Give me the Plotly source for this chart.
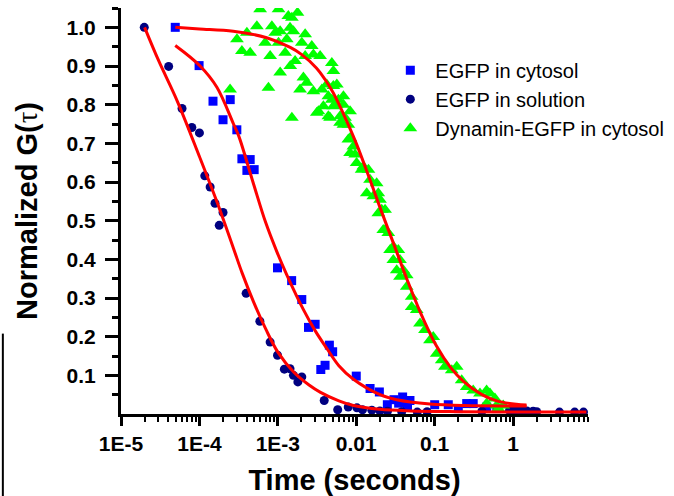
import plotly.graph_objects as go

# EGFP in solution (navy circles)
sol_t = [1.98e-5, 4.05e-5, 6.0e-5, 8.0e-5, 1.0e-4, 1.17e-4, 1.37e-4, 1.58e-4, 2.0e-4, 1.79e-4,
         3.94e-4, 5.9e-4, 7.97e-4, 9.9e-4, 1.21e-3, 1.43e-3, 1.58e-3, 1.8e-3, 2.02e-3, 3.9e-3,
         5.8e-3, 7.9e-3, 0.0102, 0.012, 0.0158, 0.02, 0.025, 0.038, 0.06, 0.08, 0.4,
         0.9, 1.0, 1.1, 1.3, 1.5, 1.8, 2.0, 3.9, 6.1, 7.9]
sol_g = [1.0, 0.899, 0.790, 0.741, 0.727, 0.616, 0.587, 0.545, 0.521, 0.488,
         0.312, 0.240, 0.186, 0.152, 0.116, 0.117, 0.100, 0.083, 0.096, 0.035,
         0.011, 0.018, 0.016, 0.011, 0.010, 0.008, 0.007, 0.006, 0.005, 0.006, 0.007,
         0.009, 0.008, 0.010, 0.009, 0.008, 0.007, 0.006, 0.005, 0.005, 0.005]

# EGFP in cytosol (blue squares)
cyt_t = [4.92e-5, 9.9e-5, 1.49e-4, 2.47e-4, 2.0e-4, 3.0e-4, 3.48e-4, 4.44e-4, 4.03e-4, 4.99e-4,
         9.9e-4, 1.5e-3, 2.02e-3, 2.46e-3, 2.99e-3, 3.53e-3, 4.0e-3, 4.54e-3, 5.0e-3,
         0.01, 0.015, 0.0197, 0.0249, 0.0303, 0.039, 0.0484, 0.0347, 0.045,
         0.1, 0.149, 0.2, 0.256, 0.31, 0.46, 0.62]
cyt_g = [1.0, 0.901, 0.809, 0.813, 0.761, 0.735, 0.660, 0.658, 0.630, 0.632,
         0.378, 0.345, 0.296, 0.224, 0.232, 0.115, 0.126, 0.178, 0.161,
         0.098, 0.066, 0.057, 0.024, 0.037, 0.044, 0.035, 0.028, 0.021,
         0.024, 0.024, 0.014, 0.027, 0.027, 0.018, 0.014]

# Dynamin-EGFP in cytosol (green triangles)
dyn_t = [5.95e-4, 1.02e-3, 1.36e-3, 1.78e-3, 1.51e-3, 5.40e-4, 8.39e-4, 1.07e-3, 1.43e-3, 1.58e-3,
         9.25e-4, 4.03e-4, 3.01e-4, 6.89e-4, 1.30e-3, 1.02e-3, 2.23e-3, 2.02e-3, 2.71e-3, 3.48e-4,
         4.44e-4, 7.98e-4, 1.24e-3, 1.66e-3, 1.44e-3, 2.23e-3, 2.84e-3, 3.46e-3, 4.88e-3, 5.11e-3,
         1.07e-3, 2.12e-3, 2.34e-3, 7.59e-4, 2.46e-4, 1.92e-3, 2.84e-3, 3.64e-3, 4.21e-3, 5.10e-3,
         5.65e-3, 4.41e-3, 5.92e-3, 6.86e-3, 3.81e-3, 5.10e-3, 3.14e-3, 4.41e-3, 6.22e-3, 1.51e-3,
         6.86e-3, 4.88e-3, 6.86e-3, 8.34e-3, 7.19e-3, 4.63e-3, 7.93e-3, 8.34e-3, 9.18e-3, 9.66e-3,
         0.0101, 0.0123, 0.0143, 0.0150, 0.0136, 0.0165, 0.0191, 0.0201, 0.0211, 0.0221,
         0.0256, 0.0297, 3.29e-3, 5.65e-3, 6.22e-3, 7.93e-3, 8.34e-3, 0.0117, 0.0182, 0.0191,
         0.0233, 0.0233, 0.0270, 0.0344, 0.0361, 0.0398, 0.0440, 0.0297, 0.0328, 0.0361,
         0.0440, 0.0509, 0.0509, 0.0590, 0.0650, 0.0752, 0.0871, 0.0959, 0.106, 0.123,
         0.135, 0.165, 0.191, 0.221, 0.256, 0.310, 0.378, 0.459, 0.507, 0.586,
         0.459, 0.617, 0.748, 0.648]
dyn_g = [1.047, 1.047, 1.029, 1.038, 1.025, 1.003, 1.003, 0.990, 0.999, 0.990,
         0.986, 0.986, 0.969, 0.960, 0.969, 0.960, 0.982, 0.960, 0.952, 0.939,
         0.934, 0.926, 0.934, 0.913, 0.900, 0.926, 0.930, 0.926, 0.908, 0.887,
         0.883, 0.870, 0.857, 0.844, 0.839, 0.839, 0.835, 0.839, 0.852, 0.848,
         0.852, 0.822, 0.813, 0.822, 0.796, 0.796, 0.779, 0.770, 0.770, 0.766,
         0.748, 0.813, 0.800, 0.783, 0.766, 0.766, 0.748, 0.714, 0.692, 0.671,
         0.649, 0.640, 0.632, 0.606, 0.571, 0.563, 0.571, 0.554, 0.528, 0.476,
         0.468, 0.433, 0.783, 0.800, 0.753, 0.710, 0.675, 0.632, 0.597, 0.519,
         0.528, 0.476, 0.424, 0.424, 0.398, 0.372, 0.359, 0.398, 0.372, 0.355,
         0.329, 0.303, 0.277, 0.269, 0.234, 0.217, 0.191, 0.199, 0.156, 0.139,
         0.122, 0.113, 0.122, 0.087, 0.070, 0.061, 0.053, 0.061, 0.053, 0.040,
         0.027, 0.022, 0.022, 0.014]

# fitted curves
fit_sol_t = [2.0e-5, 3.0e-5, 5.2e-5, 1.0e-4, 1.7e-4, 2.7e-4, 3.5e-4, 4.9e-4, 7.0e-4, 1.0e-3,
             1.6e-3, 2.5e-3, 3.5e-3, 6.0e-3, 9.2e-3, 0.02, 0.05, 0.2, 1.0, 8.6]
fit_sol_g = [1.0, 0.915, 0.81, 0.666, 0.545, 0.43, 0.365, 0.29, 0.22, 0.16,
             0.108, 0.075, 0.056, 0.034, 0.022, 0.012, 0.008, 0.006, 0.005, 0.005]

fit_cyt_t = [4.92e-5, 1.02e-4, 1.67e-4, 2.72e-4, 3.16e-4, 4.9e-4, 7.0e-4, 9.7e-4, 1.3e-3, 2.12e-3,
             3.0e-3, 4.2e-3, 6.0e-3, 9.2e-3, 0.0201, 0.0328, 0.087, 0.231, 1.49]
fit_cyt_g = [0.953, 0.90, 0.845, 0.75, 0.72, 0.595, 0.495, 0.42, 0.36, 0.27,
             0.215, 0.17, 0.125, 0.09, 0.05, 0.037, 0.026, 0.022, 0.021]

fit_dyn_t = [4.92e-5, 1.0e-4, 2.7e-4, 7.2e-4, 1.44e-3, 2.0e-3, 3.1e-3, 4.0e-3, 5.1e-3, 6.9e-3,
             0.01, 0.015, 0.02, 0.03, 0.044, 0.065, 0.106, 0.16, 0.231, 0.4,
             0.62, 1.1, 1.48]
fit_dyn_g = [1.0, 0.996, 0.99, 0.973, 0.948, 0.93, 0.895, 0.865, 0.83, 0.775,
             0.70, 0.605, 0.535, 0.44, 0.35, 0.265, 0.175, 0.12, 0.085, 0.05,
             0.034, 0.025, 0.023]

x_tickvals = [1e-5, 1e-4, 1e-3, 1e-2, 1e-1, 1]
x_ticktext = ["1E-5", "1E-4", "1E-3", "0.01", "0.1", "1"]
y_tickvals = [0.1, 0.2, 0.3, 0.4, 0.5, 0.6, 0.7, 0.8, 0.9, 1.0]

font = "Liberation Sans, Arial, sans-serif"

fig = go.Figure()

fig.add_trace(go.Scatter(x=cyt_t, y=cyt_g, mode="markers", name="EGFP in cytosol",
                         marker=dict(symbol="square", size=9, color="#0000FF"),
                         cliponaxis=False))
fig.add_trace(go.Scatter(x=sol_t, y=sol_g, mode="markers", name="EGFP in solution",
                         marker=dict(symbol="circle", size=9, color="#000080"),
                         cliponaxis=False))
fig.add_trace(go.Scatter(x=dyn_t, y=dyn_g, mode="markers", name="Dynamin-EGFP in cytosol",
                         marker=dict(symbol="triangle-up", size=12, color="#00FF00")))

for t, g in [(fit_sol_t, fit_sol_g), (fit_cyt_t, fit_cyt_g), (fit_dyn_t, fit_dyn_g)]:
    fig.add_trace(go.Scatter(x=t, y=g, mode="lines", showlegend=False,
                             line=dict(color="#FF0000", width=3, shape="spline", smoothing=1),
                             cliponaxis=False))

fig.update_layout(
    width=674, height=496,
    margin=dict(l=121, r=86, t=8, b=82, autoexpand=False),
    plot_bgcolor="white", paper_bgcolor="white",
    font=dict(family=font, color="black"),
    showlegend=True,
    legend=dict(x=0.566, y=0.895, xanchor="left", yanchor="top",
                font=dict(size=20, family=font), bgcolor="rgba(0,0,0,0)",
                itemwidth=40, tracegroupgap=0),
    xaxis=dict(type="log", range=[-5, 0.955], automargin=False,
               tickvals=x_tickvals, ticktext=x_ticktext,
               ticks="outside", ticklen=9, tickwidth=3, tickcolor="black",
               showline=True, linewidth=3, linecolor="black",
               showgrid=False, zeroline=False,
               tickfont=dict(size=21, family=font, weight="bold"),
               minor=dict(ticks="outside", ticklen=5, tickwidth=2, tickcolor="black",
                          dtick="D1", showgrid=False),
               title=dict(text="<b>Time (seconds)</b>", font=dict(size=29, family=font),
                          standoff=17)),
    yaxis=dict(range=[0, 1.05], automargin=False,
               tickvals=y_tickvals, tickformat=".1f",
               ticks="outside", ticklen=13, tickwidth=3, tickcolor="black",
               showline=True, linewidth=3, linecolor="black",
               showgrid=False, zeroline=False, ticklabelstandoff=5,
               tickfont=dict(size=21, family=font, weight="bold"),
               minor=dict(ticks="outside", ticklen=6, tickwidth=3, tickcolor="black",
                          tickvals=[0.05, 0.15, 0.25, 0.35, 0.45, 0.55, 0.65, 0.75, 0.85, 0.95, 1.05],
                          showgrid=False),
               title=dict(text="<b>Normalized G(<span style='font-family:Liberation Serif;font-weight:normal'>τ</span>)</b>",
                          font=dict(size=29, family=font), standoff=21)),
    shapes=[dict(type="line", xref="paper", yref="paper",
                 x0=-0.253, x1=-0.253, y0=0.198, y1=-0.21,
                 line=dict(color="black", width=2))],
)

# the page's default body margin would shift the chart by 8px
fig.write_html("out.html", config={"displayModeBar": False},
               post_script="document.body.style.margin='0';")
